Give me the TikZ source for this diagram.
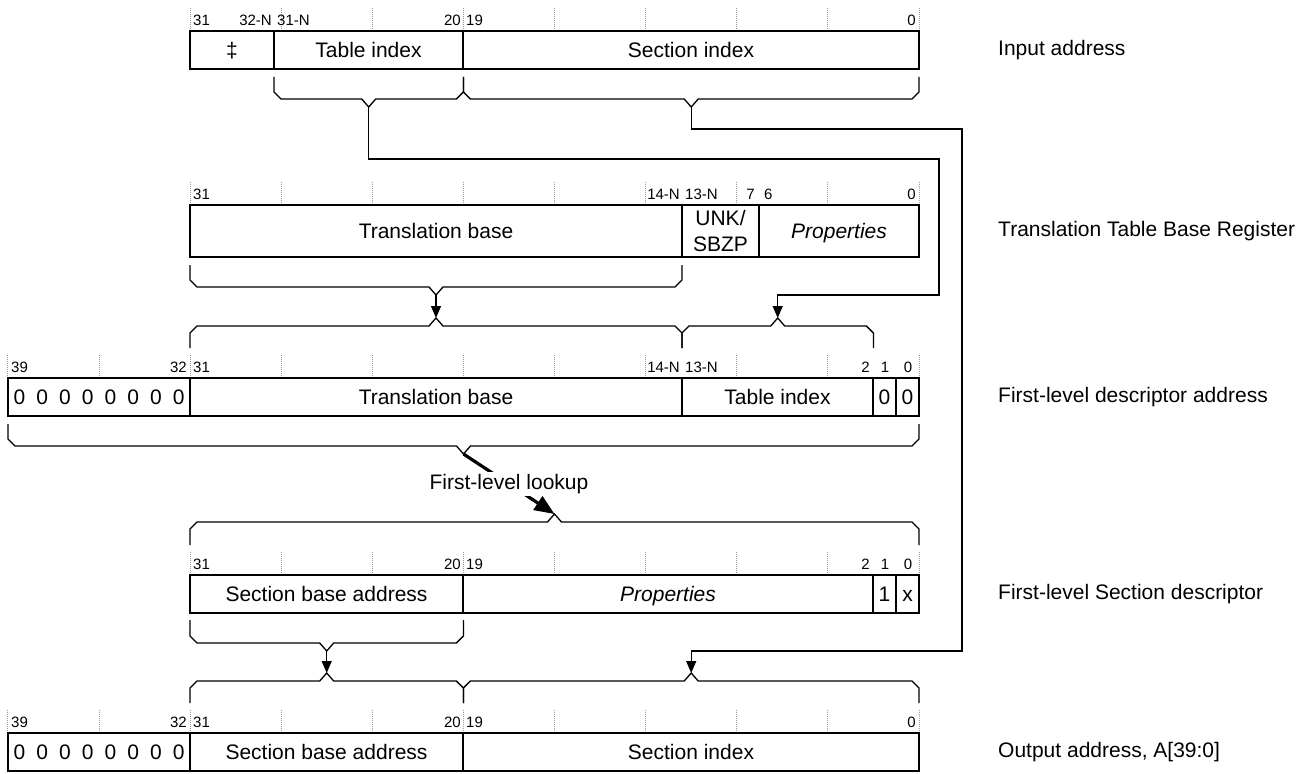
\documentclass[tikz,border=0pt]{standalone}
\usepackage{fontspec}
\setmainfont{Liberation Sans}
\usetikzlibrary{arrows.meta, positioning}

\newcommand{\boxfont}{\fontsize{21pt}{26pt}\selectfont}
\newcommand{\bitfont}{\fontsize{15pt}{18pt}\selectfont}
\newcommand{\zbit}{\makebox[22.75pt]{0}}
\newcommand{\zeros}{\zbit\zbit\zbit\zbit\zbit\zbit\zbit\zbit}

% brace: name, x left, x right, y of the ends, y of the bar
\newcommand{\fieldbrace}[5]{%
	\pgfmathsetmacro{\brc}{(#2+#3)/2}%
	\pgfmathsetmacro{\brd}{sign(#5-#4)}%
	\draw[brace] (#2,#4) -- (#2,{#5-7*\brd}) -- ({#2+7},#5) -- ({\brc-7},#5) -- (\brc,{#5+8*\brd}) -- ({\brc+7},#5) -- ({#3-7},#5) -- (#3,{#5-7*\brd}) -- (#3,#4);
	\coordinate (#1) at (\brc,{#5+8*\brd});}

\begin{document}
\begin{tikzpicture}[
			x=1pt, y=-1pt,
			cell/.style={draw, line width=1.3pt, minimum height=38pt, inner sep=0pt, outer sep=0pt, align=center, font=\boxfont},
			field/.style={cell, text height=15pt, text depth=0pt},
			frame/.style={line width=2.2pt},
			brace/.style={line width=1.3pt},
			tick/.style={gray!80, line width=0.8pt, dash pattern=on 1pt off 1pt},
			bitl/.style={inner sep=0pt, font=\bitfont},
			side/.style={anchor=west, inner sep=0pt, font=\boxfont},
			link/.style={line width=1.3pt, -{Triangle[length=12pt,width=10pt]}},
			lookup/.style={line width=3.2pt, -{Triangle[length=20pt,width=16pt]}}
			]
			\useasboundingbox (0,0) rectangle (1313,773);
			
			% Rejillas de bits
			\foreach \y/\n in {8/32, 182/32, 355/40, 552/32, 710/40}
				\foreach \b in {0,4,...,\n}
					\draw[tick] ({919-22.78*\b},\y) -- ++(0,23);
			
			% Input address
			\node (inHi) [field, minimum width=84pt, anchor=north west] at (190,31) {‡};
			\node (inTbl) [field, minimum width=189pt, right=0pt of inHi] {Table index};
			\node (inSec) [field, minimum width=456pt, right=0pt of inTbl] {Section index};
			\draw[frame] (inHi.north west) rectangle (inSec.south east);
			\node (inN31) [bitl, anchor=west] at (193,20) {31};
			\node (inN32n) [bitl, anchor=east] at (272,20) {32-N};
			\node (inN31n) [bitl, anchor=west] at (277,20) {31-N};
			\node (inN20) [bitl, anchor=east] at (461,20) {20};
			\node (inN19) [bitl, anchor=west] at (466,20) {19};
			\node (inN0) [bitl, anchor=east] at (916,20) {0};
			\node (sideIn) [side] at (998,50) {Input address};
			
			% Translation Table Base Register
			\node (ttbrBase) [field, minimum width=492pt, minimum height=52pt, anchor=north west] at (190,205) {Translation base};
			\node (ttbrUnk) [cell, minimum width=77pt, minimum height=52pt, right=0pt of ttbrBase] {UNK/\\SBZP};
			\node (ttbrProp) [field, minimum width=160pt, minimum height=52pt, right=0pt of ttbrUnk] {\itshape Properties};
			\draw[frame] (ttbrBase.north west) rectangle (ttbrProp.south east);
			\node (ttbrN31) [bitl, anchor=west] at (193,194) {31};
			\node (ttbrN14n) [bitl, anchor=east] at (680,194) {14-N};
			\node (ttbrN13n) [bitl, anchor=west] at (685,194) {13-N};
			\node (ttbrN7) [bitl, anchor=east] at (755,194) {7};
			\node (ttbrN6) [bitl, anchor=west] at (764,194) {6};
			\node (ttbrN0) [bitl, anchor=east] at (916,194) {0};
			\node (sideTtbr) [side] at (998,231) {Translation Table Base Register};
			
			% First-level descriptor address
			\node (fdaZero) [field, minimum width=182pt, anchor=north west] at (8,378) {\zeros};
			\node (fdaBase) [field, minimum width=492pt, right=0pt of fdaZero] {Translation base};
			\node (fdaIdx) [field, minimum width=191pt, right=0pt of fdaBase] {Table index};
			\node (fdaB1) [field, minimum width=23pt, right=0pt of fdaIdx] {0};
			\node (fdaB0) [field, minimum width=23pt, right=0pt of fdaB1] {0};
			\draw[frame] (fdaZero.north west) rectangle (fdaB0.south east);
			\node (fdaN39) [bitl, anchor=west] at (11,367) {39};
			\node (fdaN32) [bitl, anchor=east] at (187,367) {32};
			\node (fdaN31) [bitl, anchor=west] at (193,367) {31};
			\node (fdaN14n) [bitl, anchor=east] at (680,367) {14-N};
			\node (fdaN13n) [bitl, anchor=west] at (685,367) {13-N};
			\node (fdaN2) [bitl, anchor=east] at (870,367) {2};
			\node (fdaN1) [bitl] at (885,367) {1};
			\node (fdaN0) [bitl] at (908,367) {0};
			\node (sideFda) [side] at (998,397) {First-level descriptor address};
			
			% First-level Section descriptor
			\node (fdsBase) [field, minimum width=273pt, anchor=north west] at (190,575) {Section base address};
			\node (fdsProp) [field, minimum width=410pt, right=0pt of fdsBase] {\itshape Properties};
			\node (fdsB1) [field, minimum width=23pt, right=0pt of fdsProp] {1};
			\node (fdsB0) [field, minimum width=23pt, right=0pt of fdsB1] {x};
			\draw[frame] (fdsBase.north west) rectangle (fdsB0.south east);
			\node (fdsN31) [bitl, anchor=west] at (193,564) {31};
			\node (fdsN20) [bitl, anchor=east] at (461,564) {20};
			\node (fdsN19) [bitl, anchor=west] at (466,564) {19};
			\node (fdsN2) [bitl, anchor=east] at (870,564) {2};
			\node (fdsN1) [bitl] at (885,564) {1};
			\node (fdsN0) [bitl] at (908,564) {0};
			\node (sideFds) [side] at (998,594) {First-level Section descriptor};
			
			% Output address
			\node (outZero) [field, minimum width=182pt, anchor=north west] at (8,733) {\zeros};
			\node (outBase) [field, minimum width=273pt, right=0pt of outZero] {Section base address};
			\node (outSec) [field, minimum width=456pt, right=0pt of outBase] {Section index};
			\draw[frame] (outZero.north west) rectangle (outSec.south east);
			\node (outN39) [bitl, anchor=west] at (11,722) {39};
			\node (outN32) [bitl, anchor=east] at (187,722) {32};
			\node (outN31) [bitl, anchor=west] at (193,722) {31};
			\node (outN20) [bitl, anchor=east] at (461,722) {20};
			\node (outN19) [bitl, anchor=west] at (466,722) {19};
			\node (outN0) [bitl, anchor=east] at (916,722) {0};
			\node (sideOut) [side] at (998,752) {Output address, A[39:0]};
			
			% Llaves
			\fieldbrace{b1a}{274}{463.4}{77}{99}
			\fieldbrace{b1b}{463.4}{919}{77}{99}
			\fieldbrace{b2}{190}{682}{265}{287}
			\fieldbrace{b3a}{190}{682}{348}{326}
			\fieldbrace{b3b}{682}{873.4}{348}{326}
			\fieldbrace{b3c}{8}{919}{424}{446}
			\fieldbrace{b4a}{190}{919}{545}{522}
			\fieldbrace{b4b}{190}{463.4}{620}{643}
			\fieldbrace{b5a}{190}{463.4}{703}{681}
			\fieldbrace{b5b}{463.4}{919}{703}{681}
			
			% Conexiones
			\draw[link] (b1a) |- (939,159) -- (939,295) -| (b3b);
			\draw[link] (b1b) |- (962,129) -- (962,651) -| (b5b);
			\draw[link] (b2) -- (b3a);
			\draw[link] (b4b) -- (b5a);
			\draw[lookup] (b3c) -- node[midway, fill=white, inner sep=2pt, font=\boxfont] (lookup) {First-level lookup} (b4a);
			
		\end{tikzpicture}
\end{document}
